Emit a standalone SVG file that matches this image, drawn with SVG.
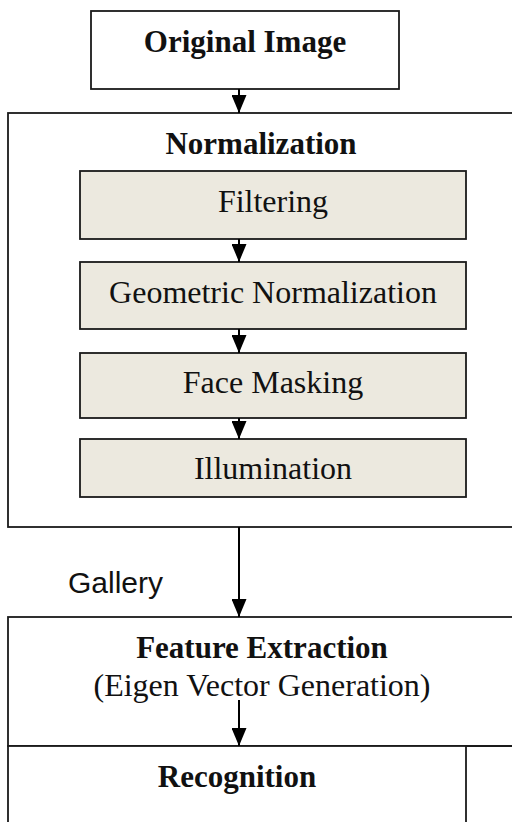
<svg xmlns="http://www.w3.org/2000/svg" width="512" height="822" viewBox="0 0 512 822">
<defs>
<marker id="ah" markerWidth="18" markerHeight="15" refX="18" refY="7.5" orient="auto" markerUnits="userSpaceOnUse" viewBox="0 0 18 15">
<path d="M0,0 L18,7.5 L0,15 Z" fill="#000"/>
</marker>
<style>
.box{fill:#fff;stroke:#1a1a1a;stroke-width:1.8}
.sub{fill:#ECE9DF;stroke:#1a1a1a;stroke-width:1.8}
.b{font-family:"Liberation Serif","Times New Roman",serif;font-weight:bold;font-size:31px;fill:#111;text-anchor:middle}
.r{font-family:"Liberation Serif","Times New Roman",serif;font-size:32px;fill:#111;text-anchor:middle}
.s{font-family:"Liberation Sans",Arial,sans-serif;font-size:30px;fill:#111}
.c{stroke:#000;stroke-width:2;fill:none}
</style>
</defs>
<g id="original-image">
<rect class="box" x="91" y="11" width="308" height="78"/>
<text class="b" x="245" y="52">Original Image</text>
</g>
<g id="normalization">
<rect class="box" x="8" y="113" width="508" height="414"/>
<text class="b" x="261" y="154">Normalization</text>
</g>
<g id="filtering">
<rect class="sub" x="80" y="171" width="386" height="68"/>
<text class="r" x="273" y="212">Filtering</text>
</g>
<g id="geometric-normalization">
<rect class="sub" x="80" y="262" width="386" height="67"/>
<text class="r" x="273" y="303">Geometric Normalization</text>
</g>
<g id="face-masking">
<rect class="sub" x="80" y="353" width="386" height="65"/>
<text class="r" x="273" y="393">Face Masking</text>
</g>
<g id="illumination">
<rect class="sub" x="80" y="439" width="386" height="58"/>
<text class="r" x="273" y="479">Illumination</text>
</g>
<g id="feature-extraction">
<rect class="box" x="8" y="617" width="508" height="129"/>
<text class="b" x="262" y="658">Feature Extraction</text>
<text class="r" x="262" y="696">(Eigen Vector Generation)</text>
</g>
<g id="recognition">
<rect class="box" x="8" y="746" width="458" height="90"/>
<line x1="466" y1="746" x2="516" y2="746" style="stroke-width:1.8;stroke:#1a1a1a"/>
<text class="b" x="237" y="787">Recognition</text>
</g>
<g id="connectors">
<line class="c" x1="239" y1="89" x2="239" y2="113" marker-end="url(#ah)"/>
<line class="c" x1="239" y1="239" x2="239" y2="262" marker-end="url(#ah)"/>
<line class="c" x1="239" y1="329" x2="239" y2="353" marker-end="url(#ah)"/>
<line class="c" x1="239" y1="418" x2="239" y2="439" marker-end="url(#ah)"/>
<line class="c" x1="239" y1="527" x2="239" y2="617" marker-end="url(#ah)"/>
<line class="c" x1="239" y1="700" x2="239" y2="746" marker-end="url(#ah)"/>
<text class="s" x="68" y="593">Gallery</text>
</g>
</svg>
